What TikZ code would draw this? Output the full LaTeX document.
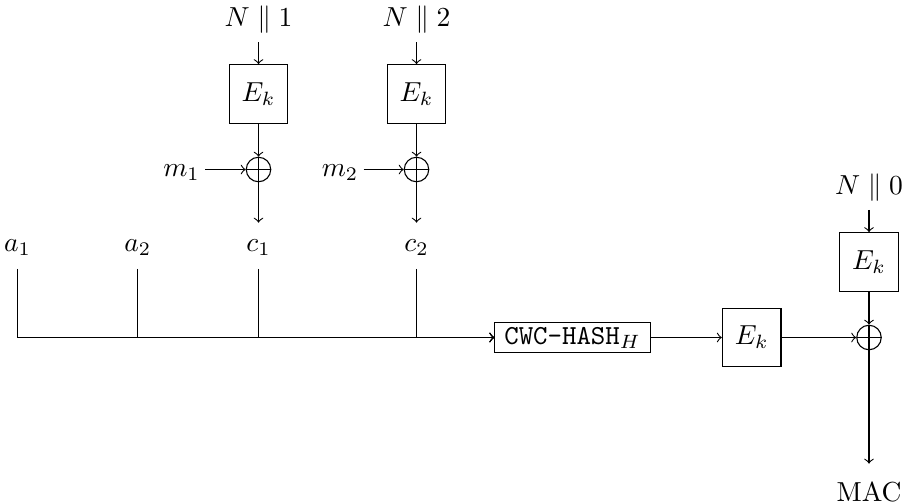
\documentclass[tikz,border=0pt]{standalone}
\begin{document}
\begin{tikzpicture}[x=0.3636pt,y=-0.3636pt,>=to,
  ebox/.style={draw, minimum width=21.3pt, minimum height=21.3pt, inner sep=0pt},
  hashbox/.style={draw, minimum width=56.4pt, minimum height=10.9pt, inner sep=1pt},
  xorc/.style={draw, circle, minimum size=8.9pt, inner sep=0pt,
    path picture={\draw (path picture bounding box.north) -- (path picture bounding box.south)
                        (path picture bounding box.west) -- (path picture bounding box.east);}},
  lbl/.style={anchor=base, inner sep=0pt}]
\useasboundingbox (0,0) rectangle (905,503);

% top encryption columns
\node[lbl] (n1) at (258.5,26.5) {$N \parallel 1$};
\node[lbl] (n2) at (416.5,26.5) {$N \parallel 2$};
\node[ebox] (e1) at (258.5,94) {$E_k$};
\node[ebox] (e2) at (416.5,94) {$E_k$};
\node[xorc] (x1) at (258.5,169.5) {};
\node[xorc] (x2) at (416.5,169.5) {};
\node[lbl] (m1) at (181.5,176) {$m_1$};
\node[lbl] (m2) at (340,176) {$m_2$};

% row of inputs
\node[lbl] (a1) at (17.5,251) {$a_1$};
\node[lbl] (a2) at (137.7,251) {$a_2$};
\node[lbl] (c1) at (258.5,251) {$c_1$};
\node[lbl] (c2) at (416.5,251) {$c_2$};

\coordinate (j1) at (17.5,337.5);
\coordinate (j2) at (137.7,337.5);
\coordinate (j3) at (258.5,337.5);
\coordinate (j4) at (416.5,337.5);

\node[hashbox] (cwc) at (572.5,337.5) {\texttt{CWC-HASH}$_H$};
\node[ebox] (em) at (751.7,337.5) {$E_k$};
\node[xorc] (x0) at (869,337.5) {};
\node[ebox] (e0) at (869,262) {$E_k$};
\node[lbl] (n0) at (869,194.3) {$N \parallel 0$};
\node[lbl] (mac) at (869,501.5) {MAC};

% connectors, columns
\draw[->] ([yshift=-3pt]n1.south) -- (e1.north);
\draw[->] ([yshift=-3pt]n2.south) -- (e2.north);
\draw[->] (e1.south) -- (x1.north);
\draw[->] (e2.south) -- (x2.north);
\draw[->, shorten <=1.8pt] (m1.east |- x1.west) -- (x1.west);
\draw[->, shorten <=1.8pt] (m2.east |- x2.west) -- (x2.west);
\draw[->] (x1.south) -- ([yshift=5.8pt]c1.north);
\draw[->] (x2.south) -- ([yshift=5.8pt]c2.north);

% bus
\draw ([yshift=-4.8pt]a1.south) -- (j1);
\draw ([yshift=-4.8pt]a2.south) -- (j2);
\draw ([yshift=-4.8pt]c1.south) -- (j3);
\draw ([yshift=-4.8pt]c2.south) -- (j4);
\draw[->] (j1) -- (cwc.west);
\draw[->] (j2) -- (cwc.west);
\draw[->] (j3) -- (cwc.west);
\draw[->] (j4) -- (cwc.west);

% tag
\draw[->] (cwc.east) -- (em.west);
\draw[->] (em.east) -- (x0.west);
\draw[->] ([yshift=-3pt]n0.south) -- (e0.north);
\draw[->] (e0.south) -- (x0.north);
\draw[->] (x0.south) -- ([yshift=6.4pt]mac.north);
\end{tikzpicture}
\end{document}
